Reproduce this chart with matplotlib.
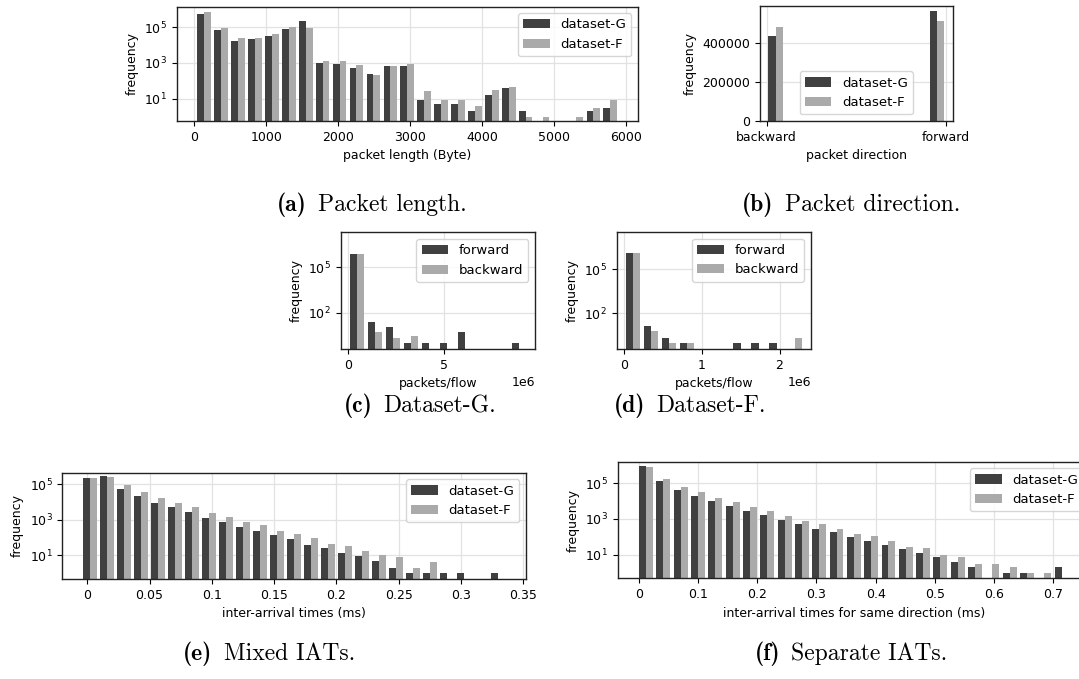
import numpy as np
import matplotlib
matplotlib.use('Agg')
import matplotlib.pyplot as plt
from matplotlib.offsetbox import TextArea, HPacker, AnnotationBbox

DARK = '#404040'
LIGHT = '#aaaaaa'

# (a) packet length histogram, 25 bins
len_start, len_width = 18, 235
len_G = [5.5e5, 6.5e4, 1.6e4, 2.05e4, 3.0e4, 7.4e4, 2.1e5, 940, 830, 490, 230, 630, 630,
         9, 5, 5, 2, 17, 38, 2, 0, 0, 0, 2, 3]
len_F = [6.6e5, 8.4e4, 2.6e4, 2.6e4, 3.9e4, 9.6e4, 8.4e4, 1200, 1200, 720, 200, 630, 830,
         26, 8, 9, 4, 29, 43, 1, 1, 0, 1, 3, 8]

# (b) packet direction
dir_labels = ['backward', 'forward']
dir_G = [434500, 562000]
dir_F = [484500, 515500]

# (c) dataset-G packets/flow, 10 bins
ppf_G_max = 9.32e6
ppf_G_fwd = [7.5e5, 24, 11, 1, 1, 1, 5, 0, 0, 1]
ppf_G_bwd = [7.5e5, 5, 2, 3, 0, 0, 0, 0, 0, 0]

# (d) dataset-F packets/flow, 10 bins
ppf_F_max = 2.31e6
ppf_F_fwd = [1.17e6, 14, 2, 1, 0, 0, 1, 1, 1, 0]
ppf_F_bwd = [1.17e6, 6, 1, 1, 0, 0, 0, 0, 0, 2]

# (e) mixed IATs, 25 bins
iat_start, iat_width = -0.0045, 0.01365
iat_G = [2.1e5, 2.8e5, 5.2e4, 2.1e4, 8.5e3, 5.1e3, 2.7e3, 1.2e3, 740, 390, 230, 138, 83,
         38, 26, 13, 9, 5, 2, 1, 1, 1, 1, 0, 1]
iat_F = [2.1e5, 2.4e5, 8.8e4, 3.6e4, 1.6e4, 8.5e3, 5.1e3, 2.4e3, 1.4e3, 740, 500, 230, 160,
         94, 43, 33, 17, 10, 8, 2, 4, 0, 0, 0, 0]

# (f) separate IATs, 25 bins
sep_start, sep_width = -0.003, 0.0293
sep_G = [8.9e5, 1.3e5, 4.1e4, 1.9e4, 1.0e4, 5.2e3, 2.7e3, 1.6e3, 860, 510, 270, 185, 98,
         58, 35, 21, 12, 7, 4, 2, 0, 1, 1, 0, 2]
sep_F = [7.8e5, 1.67e5, 6.0e4, 3.1e4, 1.45e4, 8.7e3, 4.6e3, 2.7e3, 1.4e3, 750, 510, 270, 140,
         110, 58, 27, 23, 10, 7, 3, 3, 2, 1, 1, 0]

plt.rcParams.update({
    'font.size': 9,
    'axes.grid': True,
    'grid.color': '#e2e2e2',
    'grid.linewidth': 0.9,
    'axes.axisbelow': True,
    'axes.linewidth': 1.0,
    'axes.edgecolor': '#222222',
    'legend.fontsize': 9.5,
})

W, H = 1079, 679
fig = plt.figure(figsize=(W / 100, H / 100), dpi=100)


def add_axes(left, top, right, bottom):
    return fig.add_axes([left / W, 1 - bottom / H, (right - left) / W, (bottom - top) / H])


def hist(ax, edges, a, b, labels, log=True):
    mids = (edges[:-1] + edges[1:]) / 2
    ax.hist([mids, mids], bins=edges, weights=[a, b], log=log,
            color=[DARK, LIGHT], label=labels)
    if log:
        ax.minorticks_off()


# (a)
ax = add_axes(176.5, 6.5, 638, 121)
edges = len_start + len_width * np.arange(len(len_G) + 1)
hist(ax, edges, len_G, len_F, ['dataset-G', 'dataset-F'])
ax.set_ylim(0.57, 1.4e6)
ax.set_yticks([1e1, 1e3, 1e5])
ax.set_xticks([0, 1000, 2000, 3000, 4000, 5000, 6000])
ax.set_xlabel('packet length (Byte)')
ax.set_ylabel('frequency')
ax.legend(loc='upper right')

# (b)
ax = add_axes(760, 6, 952.7, 121)
edges = np.linspace(0, 1, 11)
ax.hist([[0, 1], [0, 1]], bins=edges, weights=[dir_G, dir_F],
        color=[DARK, LIGHT], label=['dataset-G', 'dataset-F'])
ax.set_xlim(-0.037, 1.037)
ax.set_xticks([0, 1])
ax.set_xticklabels(dir_labels)
ax.set_yticks([0, 200000, 400000])
ax.set_xlabel('packet direction')
ax.set_ylabel('frequency')
ax.legend(loc='lower center')

# (c)
ax = add_axes(340.7, 232.3, 535, 349)
edges = np.linspace(0, ppf_G_max, len(ppf_G_fwd) + 1)
hist(ax, edges, ppf_G_fwd, ppf_G_bwd, ['forward', 'backward'])
ax.set_ylim(0.39, 2.1e7)
ax.set_yticks([1e2, 1e5])
ax.set_xticks([0, 5e6])
ax.set_xlabel('packets/flow')
ax.set_ylabel('frequency')
ax.legend(loc='upper right')

# (d)
ax = add_axes(616.7, 232, 810.7, 349)
edges = np.linspace(0, ppf_F_max, len(ppf_F_fwd) + 1)
hist(ax, edges, ppf_F_fwd, ppf_F_bwd, ['forward', 'backward'])
ax.set_ylim(0.37, 3.3e7)
ax.set_yticks([1e2, 1e5])
ax.set_xticks([0, 1e6, 2e6])
ax.set_xlabel('packets/flow')
ax.set_ylabel('frequency')
ax.legend(loc='upper right')

# (e)
ax = add_axes(62.3, 472.7, 526, 579)
edges = iat_start + iat_width * np.arange(len(iat_G) + 1)
hist(ax, edges, iat_G, iat_F, ['dataset-G', 'dataset-F'])
ax.set_ylim(0.47, 4.4e5)
ax.set_yticks([1e1, 1e3, 1e5])
ax.set_xticks([0, 0.05, 0.1, 0.15, 0.2, 0.25, 0.3, 0.35])
ax.set_xticklabels(['0', '0.05', '0.1', '0.15', '0.2', '0.25', '0.3', '0.35'])
ax.set_xlabel('inter-arrival times (ms)')
ax.set_ylabel('frequency')
ax.legend(loc='upper right')

# (f)
ax = add_axes(617.7, 461.7, 1090, 578.3)
edges = sep_start + sep_width * np.arange(len(sep_G) + 1)
hist(ax, edges, sep_G, sep_F, ['dataset-G', 'dataset-F'])
ax.set_ylim(0.48, 1.55e6)
ax.set_yticks([1e1, 1e3, 1e5])
ax.set_xticks([0, 0.1, 0.2, 0.3, 0.4, 0.5, 0.6, 0.7])
ax.set_xticklabels(['0', '0.1', '0.2', '0.3', '0.4', '0.5', '0.6', '0.7'])
ax.set_xlabel('inter-arrival times for same direction (ms)')
ax.set_ylabel('frequency')
ax.legend(loc='upper right')

# sub-captions: bold tag followed by roman text, centred at (x, y) pixels
captions = [
    (372, 205, '(a)', 'Packet length.'),
    (851, 205, '(b)', 'Packet direction.'),
    (420, 406, '(c)', 'Dataset-G.'),
    (690, 406, '(d)', 'Dataset-F.'),
    (269, 654, '(e)', 'Mixed IATs.'),
    (851, 654, '(f)', 'Separate IATs.'),
]
for x, y, tag, text in captions:
    box = HPacker(children=[
        TextArea(tag, textprops=dict(family='cmb10', fontsize=17)),
        TextArea(text, textprops=dict(family='cmr10', fontsize=17)),
    ], align='baseline', pad=0, sep=8)
    fig.add_artist(AnnotationBbox(box, (x / W, 1 - y / H), xycoords='figure fraction',
                                  box_alignment=(0.5, 0.5), frameon=False, pad=0))

fig.savefig('out.png', dpi=100)
